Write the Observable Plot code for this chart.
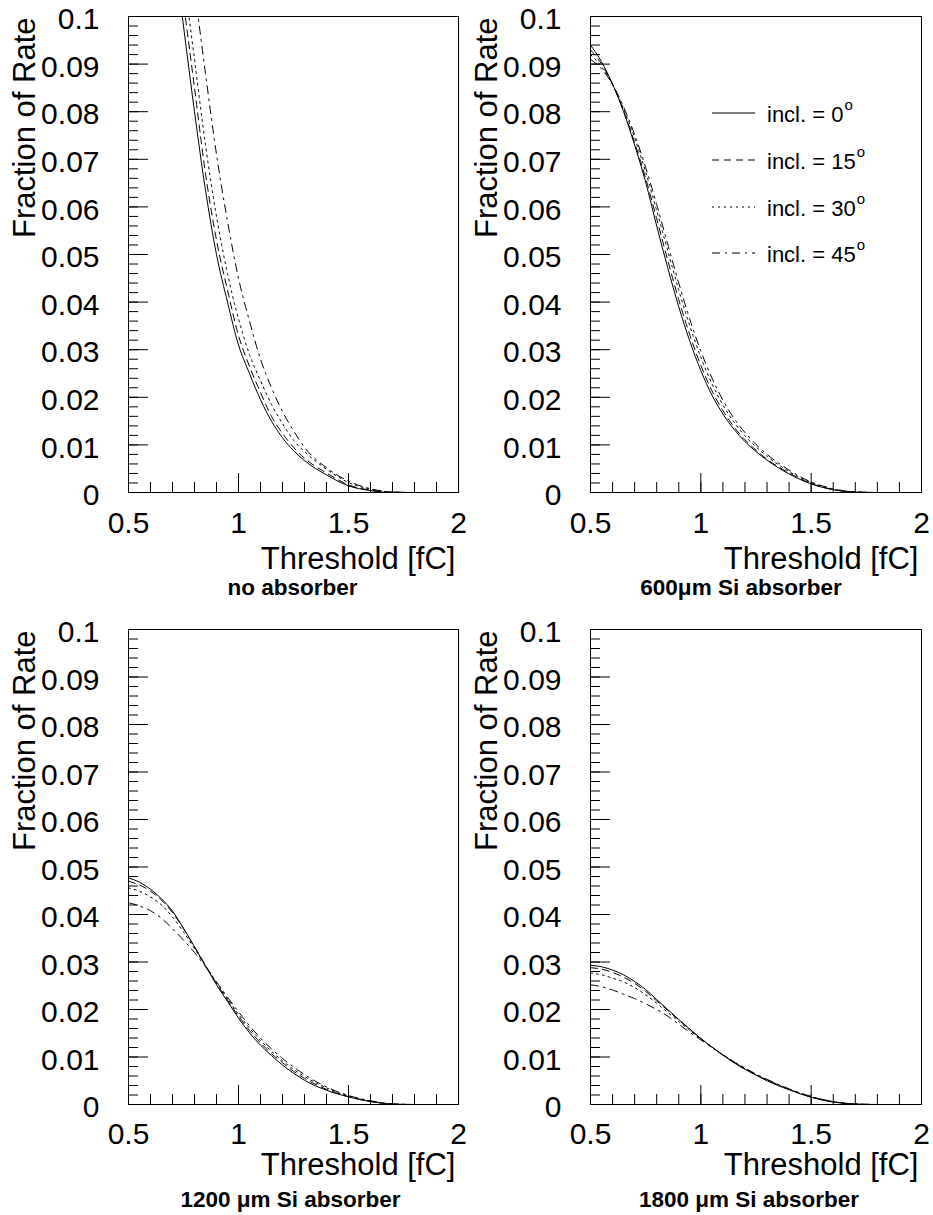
<!DOCTYPE html>
<html>
<head>
<meta charset="utf-8">
<script src="https://cdn.jsdelivr.net/npm/d3@7"></script>
<script src="https://cdn.jsdelivr.net/npm/@observablehq/plot@0.6"></script>
<style>
  body { margin: 0; background: #fff; }
  #page { position: relative; width: 933px; height: 1215px; background: #fff; overflow: hidden;
          font-family: "Liberation Sans", Arial, sans-serif; }
  #page svg { position: absolute; overflow: visible; max-width: none; }
</style>
</head>
<body>
<div id="page"></div>
<script>
// ---------- data ----------
const thresholds = [0.5, 0.55, 0.6, 0.65, 0.7, 0.75, 0.8, 0.85, 0.9, 0.95, 1.0, 1.05, 1.1, 1.15, 1.2, 1.25, 1.3, 1.4, 1.5, 1.6, 1.7, 1.8, 1.9, 2.0];

const inclinations = [0, 15, 30, 45];
const legendLabels = ["incl. = 0", "incl. = 15", "incl. = 30", "incl. = 45"];

const xTickLabels = [0.5, 1, 1.5, 2];
const yTickLabels = [0, 0.01, 0.02, 0.03, 0.04, 0.05, 0.06, 0.07, 0.08, 0.09, 0.1];

const panelCaptions = ["no absorber", "600μm Si absorber", "1200 μm Si absorber", "1800 μm Si absorber"];
const xTitle = "Threshold [fC]";
const yTitle = "Fraction of Rate";

// no absorber
const none_0  = [0.205, 0.180, 0.157, 0.136, 0.1165, 0.098, 0.080, 0.0635, 0.050, 0.040, 0.031, 0.025, 0.0195, 0.015, 0.0115, 0.0088, 0.0067, 0.0037, 0.0014, 0.0004, 0, 0, 0, 0];
const none_15 = [0.210, 0.185, 0.163, 0.142, 0.122, 0.103, 0.085, 0.067, 0.053, 0.0425, 0.033, 0.0265, 0.021, 0.016, 0.0124, 0.0095, 0.0072, 0.0041, 0.0016, 0.0005, 0.0001, 0, 0, 0];
const none_30 = [0.220, 0.195, 0.172, 0.150, 0.128, 0.109, 0.091, 0.073, 0.058, 0.046, 0.0365, 0.029, 0.0235, 0.0185, 0.0145, 0.011, 0.0086, 0.0049, 0.0021, 0.0007, 0.0001, 0, 0, 0];
const none_45 = [0.240, 0.210, 0.185, 0.165, 0.145, 0.125, 0.106, 0.088, 0.071, 0.057, 0.045, 0.036, 0.028, 0.022, 0.017, 0.013, 0.0095, 0.0052, 0.0024, 0.0008, 0.0001, 0, 0, 0];

// 600 um Si absorber
const si600_0  = [0.094, 0.0905, 0.0858, 0.0800, 0.0730, 0.0652, 0.0560, 0.0472, 0.0390, 0.0318, 0.0256, 0.0205, 0.0165, 0.0133, 0.0107, 0.0086, 0.0068, 0.0039, 0.0018, 0.0006, 0.0001, 0, 0, 0];
const si600_15 = [0.093, 0.0900, 0.0857, 0.0802, 0.0735, 0.0660, 0.0575, 0.0488, 0.0405, 0.0331, 0.0267, 0.0214, 0.0172, 0.0138, 0.0111, 0.0089, 0.0070, 0.0041, 0.0019, 0.0006, 0.0001, 0, 0, 0];
const si600_30 = [0.092, 0.0895, 0.0857, 0.0806, 0.0745, 0.0673, 0.0592, 0.0508, 0.0425, 0.0350, 0.0284, 0.0229, 0.0184, 0.0148, 0.0119, 0.0096, 0.0076, 0.0044, 0.0021, 0.0007, 0.0001, 0, 0, 0];
const si600_45 = [0.091, 0.0890, 0.0857, 0.0810, 0.0752, 0.0683, 0.0605, 0.0522, 0.0440, 0.0364, 0.0297, 0.0241, 0.0194, 0.0156, 0.0126, 0.0101, 0.0080, 0.0047, 0.0022, 0.0008, 0.0001, 0, 0, 0];

// 1200 um Si absorber
const si1200_0  = [0.0477, 0.0468, 0.0453, 0.0433, 0.0407, 0.0371, 0.0332, 0.0292, 0.0252, 0.0217, 0.0182, 0.0151, 0.0125, 0.0103, 0.0083, 0.0066, 0.0051, 0.0030, 0.0016, 0.0006, 0.0001, 0, 0, 0];
const si1200_15 = [0.0470, 0.0462, 0.0449, 0.0430, 0.0404, 0.0370, 0.0332, 0.0293, 0.0255, 0.0220, 0.0186, 0.0156, 0.0130, 0.0107, 0.0088, 0.0070, 0.0055, 0.0032, 0.0017, 0.0007, 0.0001, 0, 0, 0];
const si1200_30 = [0.0456, 0.0449, 0.0437, 0.0420, 0.0395, 0.0363, 0.0328, 0.0292, 0.0257, 0.0223, 0.0190, 0.0161, 0.0135, 0.0112, 0.0092, 0.0074, 0.0059, 0.0035, 0.0018, 0.0007, 0.0001, 0, 0, 0];
const si1200_45 = [0.0425, 0.0418, 0.0408, 0.0392, 0.0370, 0.0346, 0.0320, 0.0290, 0.0258, 0.0226, 0.0195, 0.0166, 0.0140, 0.0117, 0.0097, 0.0079, 0.0063, 0.0037, 0.0019, 0.0008, 0.0001, 0, 0, 0];

// 1800 um Si absorber
const si1800_0  = [0.0293, 0.0290, 0.0283, 0.0273, 0.0259, 0.0242, 0.0221, 0.0200, 0.0179, 0.0159, 0.0139, 0.0121, 0.0104, 0.0088, 0.0074, 0.0062, 0.0050, 0.0031, 0.0015, 0.0005, 0.0001, 0, 0, 0];
const si1800_15 = [0.0288, 0.0285, 0.0278, 0.0268, 0.0255, 0.0238, 0.0218, 0.0198, 0.0178, 0.0158, 0.0139, 0.0121, 0.0104, 0.0089, 0.0075, 0.0062, 0.0051, 0.0032, 0.0016, 0.0006, 0.0001, 0, 0, 0];
const si1800_30 = [0.0277, 0.0273, 0.0266, 0.0258, 0.0246, 0.0231, 0.0213, 0.0194, 0.0175, 0.0156, 0.0138, 0.0121, 0.0105, 0.0090, 0.0076, 0.0063, 0.0052, 0.0032, 0.0016, 0.0006, 0.0001, 0, 0, 0];
const si1800_45 = [0.0252, 0.0248, 0.0241, 0.0232, 0.0223, 0.0212, 0.0200, 0.0186, 0.0169, 0.0152, 0.0136, 0.0120, 0.0105, 0.0090, 0.0077, 0.0064, 0.0053, 0.0033, 0.0017, 0.0006, 0.0001, 0, 0, 0];

// ---------- styling ----------
const dashes = [null, "7,5", "2,4", "8,5,2,5"];
const FONT = "Liberation Sans, Arial, Helvetica, sans-serif";
const xMinor = d3.range(5, 21).map(d => d / 10);
const yMinor = d3.range(0, 51).map(d => d / 500);

const panels = [
  {series: [none_0, none_15, none_30, none_45], caption: panelCaptions[0], left: 0,   top: 0,   width: 466, height: 607, ml: 128, mr: 8,  mt: 16, mb: 115, xLabelDy: 40, titleDy: 76, capDx: -1,  capDy: 102},
  {series: [si600_0, si600_15, si600_30, si600_45], caption: panelCaptions[1], left: 466, top: 0,   width: 467, height: 607, ml: 124, mr: 12, mt: 16, mb: 115, xLabelDy: 40, titleDy: 76, capDx: -15, capDy: 102},
  {series: [si1200_0, si1200_15, si1200_30, si1200_45], caption: panelCaptions[2], left: 0,   top: 607, width: 466, height: 608, ml: 128, mr: 8,  mt: 22, mb: 111, xLabelDy: 39, titleDy: 70, capDx: -3,  capDy: 102},
  {series: [si1800_0, si1800_15, si1800_30, si1800_45], caption: panelCaptions[3], left: 466, top: 607, width: 467, height: 608, ml: 124, mr: 12, mt: 22, mb: 111, xLabelDy: 39, titleDy: 70, capDx: -7,  capDy: 102}
];

const page = document.getElementById("page");

function fmt(v) { return String(v); }

for (const p of panels) {
  const W = p.width - p.ml - p.mr;
  const H = p.height - p.mt - p.mb;
  const marks = [
    Plot.tickY(yMinor, {y: d => d, insetRight: W - 10, stroke: "#000", strokeWidth: 1}),
    Plot.tickY(yTickLabels, {y: d => d, insetRight: W - 20, stroke: "#000", strokeWidth: 1}),
    Plot.tickX(xMinor, {x: d => d, insetTop: H - 10, stroke: "#000", strokeWidth: 1}),
    Plot.tickX(xTickLabels, {x: d => d, insetTop: H - 19, stroke: "#000", strokeWidth: 1}),
    ...p.series.map((vals, k) => Plot.line(thresholds, {
      x: d => d, y: (d, i) => vals[i],
      stroke: "#000", strokeWidth: 1, curve: "monotone-x",
      strokeDasharray: dashes[k], clip: true
    })),
    Plot.frame({stroke: "#000", strokeWidth: 1}),
    // tick labels
    Plot.text(yTickLabels, {y: d => d, text: fmt, frameAnchor: "left", textAnchor: "end", dx: -29, dy: 3, fontSize: 30, fill: "#000"}),
    Plot.text(xTickLabels, {x: d => d, text: fmt, frameAnchor: "bottom", textAnchor: "middle", lineAnchor: "middle", dy: p.xLabelDy - 9.6, fontSize: 30, fill: "#000"}),
    // axis titles
    Plot.text([xTitle], {text: d => d, frameAnchor: "bottom-right", textAnchor: "end", lineAnchor: "middle", dx: -3, dy: p.titleDy - 9.9, fontSize: 31, fill: "#000"}),
    Plot.text([yTitle], {text: d => d, frameAnchor: "top-left", rotate: -90, textAnchor: "end", lineAnchor: "middle", dx: -103, dy: 1, fontSize: 31, fill: "#000"}),
    // caption
    Plot.text([p.caption], {text: d => d, frameAnchor: "bottom", textAnchor: "middle", lineAnchor: "middle", dx: p.capDx, dy: p.capDy - 7.2, fontSize: 22.5, fontWeight: "bold", fill: "#000"})
  ];
  const svg = Plot.plot({
    width: p.width, height: p.height,
    marginLeft: p.ml, marginRight: p.mr, marginTop: p.mt, marginBottom: p.mb,
    x: {domain: [0.5, 2], axis: null},
    y: {domain: [0, 0.1], axis: null},
    style: {fontFamily: FONT, background: "transparent", overflow: "visible", color: "#000"},
    marks
  });
  svg.style.left = p.left + "px";
  svg.style.top = p.top + "px";
  svg.style.width = p.width + "px";
  svg.style.height = p.height + "px";
  page.appendChild(svg);
}

// ---------- legend (inside the 600 µm panel) ----------
const legend = d3.select(page).append("svg")
  .attr("width", 933).attr("height", 300)
  .style("left", "0px").style("top", "0px")
  .attr("font-family", FONT);
const rowY = [113, 160, 207, 253];
inclinations.forEach((a, k) => {
  const g = legend.append("g").attr("transform", `translate(0,${rowY[k]})`);
  g.append("line").attr("x1", 712).attr("x2", 755).attr("y1", 0).attr("y2", 0)
    .attr("stroke", "#000").attr("stroke-width", 1)
    .attr("stroke-dasharray", dashes[k]);
  const t = g.append("text").attr("x", 767).attr("y", 8.5).attr("font-size", 22).attr("fill", "#000");
  t.append("tspan").text(legendLabels[k]);
  t.append("tspan").attr("font-size", 15).attr("dy", -11.5).attr("dx", 1).text("o");
});
</script>
</body>
</html>
